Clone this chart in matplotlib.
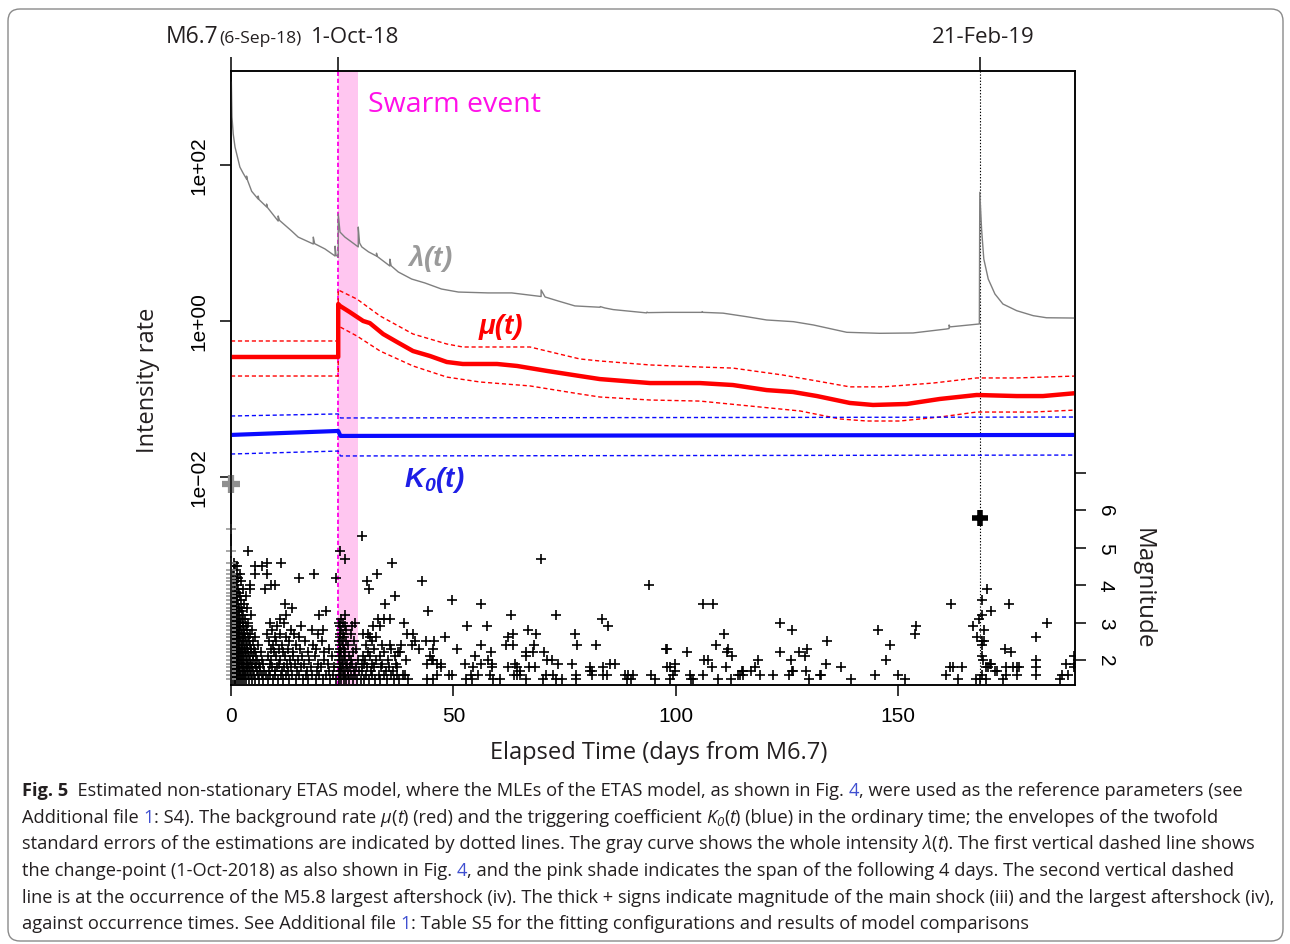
import matplotlib
matplotlib.use("Agg")
import matplotlib.pyplot as plt
from matplotlib.patches import FancyBboxPatch
from matplotlib.ticker import NullLocator
from matplotlib.transforms import IdentityTransform, offset_copy

plt.rcParams["mathtext.fontset"] = "custom"
plt.rcParams["mathtext.it"] = "Liberation Sans:italic:bold"
plt.rcParams["mathtext.rm"] = "Liberation Sans:italic:bold"

TICK_FONT = "Liberation Sans"
LABEL_FONT = "Open Sans"
INK = "#231f20"

# whole intensity lambda(t), events/day
lam_day = [0.08, 0.22, 0.5, 0.9, 1.4, 2.0, 2.7, 3.5, 3.5, 3.7, 4.65, 6.1, 6.1, 6.3,
           8.0, 8.0, 8.2, 10.6, 10.6, 10.9, 13.6, 15.1, 18.5, 18.5, 18.8, 21.1, 23.4,
           23.4, 23.6, 24.1, 24.1, 24.5, 25.6, 27.1, 28.6, 28.6, 28.9, 29.4, 30.9, 32.7,
           32.7, 32.9, 35.7, 35.7, 36.0, 37.6, 40.6, 43.6, 47.3, 51.1, 57.8, 63.1, 69.7,
           69.7, 70.6, 73.6, 77.3, 82.9, 83.0, 84.0, 85.9, 93.4, 93.5, 93.7, 97.9, 105.8,
           105.9, 106.1, 110.6, 115.9, 120.4, 126.4, 130.9, 138.4, 145.8, 153.3, 160.8,
           161.4, 161.4, 161.6, 168.2, 168.3, 168.7, 169.2, 170.2, 171.7, 173.5, 176.6,
           180.3, 183.3, 190.0]
lam_rate = [1150, 412, 250, 170, 130, 94, 79, 66, 72, 64, 46, 36.6, 40, 36,
            29, 31.6, 28.5, 19.1, 22.2, 19.5, 14.3, 11.9, 9.7, 11.9, 9.8, 8.4, 6.8,
            9.1, 7.0, 6.6, 23.6, 13.8, 11.9, 10.3, 8.9, 16.0, 10.0, 8.9, 7.7, 6.8,
            7.4, 6.7, 5.07, 6.2, 5.1, 4.25, 3.45, 3.07, 2.57, 2.35, 2.29, 2.29, 2.06,
            2.50, 2.03, 1.80, 1.56, 1.50, 1.53, 1.47, 1.40, 1.27, 1.30, 1.28, 1.29, 1.29,
            1.32, 1.29, 1.26, 1.135, 1.03, 0.98, 0.889, 0.716, 0.695, 0.702, 0.789,
            0.80, 0.889, 0.84, 0.916, 44.7, 15.1, 6.24, 3.45, 2.22, 1.65, 1.355,
            1.17, 1.10, 1.09]

# background rate mu(t) and its 2-sigma envelope
mu_day = [0, 24.1, 24.1, 24.5, 26.7, 29.7, 31.2, 34.2, 37.3, 40.9, 44.7, 48.5, 52.1,
          59.8, 64.3, 71.0, 78.4, 82.9, 94.2, 105.4, 112.8, 120.4, 126.3, 131.7, 139.1,
          144.3, 151.9, 159.3, 167.6, 176.6, 182.5, 190]
mu_rate = [0.3455, 0.3455, 1.65, 1.56, 1.30, 1.00, 0.94, 0.68, 0.538, 0.412, 0.356,
           0.298, 0.281, 0.281, 0.265, 0.229, 0.197, 0.180, 0.160, 0.160, 0.151, 0.130,
           0.123, 0.109, 0.0889, 0.0838, 0.0863, 0.100, 0.1125, 0.109, 0.109, 0.119]
mu_hi_day = [0, 24.1, 24.1, 28.3, 33.5, 40.9, 48.5, 52.1, 67.2, 78.4, 82.9, 94.2, 105.4,
             112.8, 124.0, 131.7, 139.1, 146.5, 157.8, 167.6, 176.6, 190]
mu_hi = [0.554, 0.554, 2.5, 1.91, 1.16, 0.681, 0.507, 0.464, 0.464, 0.326, 0.307, 0.273,
         0.257, 0.249, 0.203, 0.170, 0.143, 0.143, 0.160, 0.186, 0.186, 0.197]
mu_lo_day = [0, 24.1, 24.1, 28.3, 33.5, 40.9, 48.5, 56.0, 67.2, 78.4, 82.9, 94.2, 105.4,
             116.6, 127.9, 136.9, 142.9, 150.3, 159.3, 167.6, 180.2, 190]
mu_lo = [0.197, 0.197, 0.863, 0.642, 0.412, 0.265, 0.191, 0.165, 0.147, 0.116, 0.106,
         0.097, 0.094, 0.0813, 0.0702, 0.0554, 0.0522, 0.0522, 0.0587, 0.068, 0.068, 0.0722]

# triggering coefficient K0(t) and envelope
k0_day = [0, 24.1, 24.6, 190]
k0 = [0.0346, 0.0389, 0.0336, 0.0346]
k0_hi = [0.0605, 0.0643, 0.0571, 0.0587]
k0_lo = [0.0197, 0.0215, 0.0186, 0.0191]

CHANGE_DAY = 24.1
SHADE_END = 28.6
AFTERSHOCK_DAY = 168.3
mainshock_mag = 6.7
aftershock_mag = 5.8

# catalogue, rows of (magnitude, occurrence days)
week1_rows = [
    (1.5, [0.3, 0.6, 0.9, 1.2, 1.6, 2.0, 2.4, 2.9, 3.4, 4.0, 4.7, 5.5, 6.3, 7.2]),
    (1.6, [0.2, 0.5, 0.8, 1.1, 1.4, 1.8, 2.2, 2.7, 3.2, 3.8, 4.5, 5.2, 6.0, 6.9, 7.8]),
    (1.7, [0.3, 0.6, 1.0, 1.3, 1.7, 2.1, 2.6, 3.1, 3.7, 4.3, 5.0, 5.8, 6.6, 7.5]),
    (1.8, [0.2, 0.5, 0.9, 1.2, 1.5, 1.9, 2.4, 2.9, 3.5, 4.1, 4.8, 5.6, 6.5]),
    (1.9, [0.4, 0.7, 1.0, 1.4, 1.8, 2.2, 2.7, 3.3, 3.9, 4.6, 5.4, 6.2, 7.1]),
    (2.0, [0.3, 0.6, 0.9, 1.3, 1.6, 2.0, 2.5, 3.0, 3.6, 4.2, 5.0, 5.9, 7.0]),
    (2.1, [0.2, 0.5, 0.8, 1.1, 1.5, 1.9, 2.3, 2.8, 3.4, 4.1, 4.9, 5.7]),
    (2.2, [0.4, 0.7, 1.0, 1.4, 1.8, 2.2, 2.7, 3.2, 3.9, 4.6, 5.5, 6.7]),
    (2.3, [0.3, 0.6, 0.9, 1.2, 1.6, 2.0, 2.5, 3.1, 3.7, 4.4, 5.2]),
    (2.4, [0.2, 0.5, 0.8, 1.1, 1.5, 1.9, 2.4, 2.9, 3.5, 4.3, 6.1]),
    (2.5, [0.4, 0.7, 1.0, 1.3, 1.7, 2.2, 2.7, 3.3, 4.0, 4.9]),
    (2.6, [0.3, 0.6, 0.9, 1.2, 1.6, 2.0, 2.6, 3.2, 3.8, 5.3]),
    (2.7, [0.2, 0.5, 0.8, 1.1, 1.5, 1.9, 2.4, 3.0, 4.2]),
    (2.8, [0.4, 0.7, 1.0, 1.4, 1.8, 2.3, 2.9, 3.6, 4.7]),
    (2.9, [0.3, 0.6, 0.9, 1.3, 1.7, 2.1, 2.7, 3.4]),
    (3.0, [0.2, 0.5, 0.8, 1.2, 1.6, 2.1, 2.6, 3.9]),
    (3.1, [0.4, 0.7, 1.1, 1.5, 2.0, 2.5, 3.1]),
    (3.2, [0.3, 0.6, 1.0, 1.4, 1.9, 2.8, 4.4]),
    (3.3, [0.2, 0.5, 0.9, 1.3, 1.8, 2.4]),
    (3.4, [0.4, 0.8, 1.2, 1.7, 2.3, 3.5]),
    (3.5, [0.3, 0.7, 1.1, 1.6, 2.9]),
    (3.6, [0.5, 0.9, 1.4, 2.2]),
    (3.7, [0.4, 0.8, 1.3, 2.0, 3.3]),
    (3.8, [0.6, 1.1, 1.8]),
    (3.9, [0.3, 0.9, 1.5, 2.6, 4.3, 7.6]),
    (4.0, [0.7, 1.3, 4.2, 9.1, 9.9]),
    (4.1, [0.5, 1.1, 2.3]),
    (4.2, [0.9, 1.6, 15.3, 23.7]),
    (4.3, [0.4, 1.3, 2.1, 5.4, 8.2, 18.7]),
    (4.4, [0.7]),
    (4.5, [1.0, 1.4, 5.4, 6.9]),
    (4.6, [0.6, 8.2, 11.2]),
    (4.9, [3.9]),
]
mid_rows = [
    (1.5, [8.3, 9.5, 10.6, 11.8, 13.0, 14.5, 16.2, 17.4, 19.1, 20.6, 22.3, 23.5]),
    (1.6, [8.8, 10.0, 11.2, 12.4, 13.8, 15.3, 16.8, 18.2, 19.8, 21.4, 23.0]),
    (1.7, [8.5, 9.8, 11.5, 12.9, 14.9, 17.0, 19.3, 22.0]),
    (1.8, [9.2, 10.4, 12.0, 13.5, 15.8, 18.0, 20.2, 23.2]),
    (1.9, [8.7, 10.9, 12.6, 14.3, 16.5, 19.5, 21.7]),
    (2.0, [9.0, 11.0, 13.2, 15.0, 17.6, 20.9]),
    (2.1, [8.4, 10.2, 12.2, 14.0, 16.0, 18.8, 22.6]),
    (2.2, [9.6, 11.6, 13.9, 17.3, 21.0]),
    (2.3, [8.9, 10.8, 12.8, 15.5, 19.0, 22.1]),
    (2.4, [9.4, 11.4, 14.6, 18.4]),
    (2.5, [8.6, 10.1, 13.0, 16.6, 20.4]),
    (2.6, [9.9, 12.3, 15.2]),
    (2.7, [8.2, 11.1, 14.2, 19.6]),
    (2.8, [9.3, 13.4, 18.3, 20.6]),
    (2.9, [10.3, 15.7]),
    (3.0, [8.8, 12.0]),
    (3.1, [11.0]),
    (3.2, [12.4, 19.8]),
    (3.3, [21.3]),
    (3.4, [13.6]),
    (3.5, [12.1]),
]
swarm_rows = [
    (1.5, [24.3, 24.8, 25.3, 25.9, 26.6, 27.4, 28.3, 29.2, 29.8, 31.0, 32.4, 33.6, 35.0, 36.6, 37.8]),
    (1.6, [24.5, 25.1, 25.6, 26.2, 27.0, 27.9, 30.3, 31.8, 33.2, 34.3, 36.0, 37.4]),
    (1.7, [24.2, 24.7, 25.4, 26.4, 27.6, 28.8, 29.5, 31.4, 34.8, 36.4]),
    (1.8, [24.4, 25.0, 25.8, 26.8, 28.0, 30.6, 32.2, 33.8, 35.6, 37.2]),
    (1.9, [24.6, 25.2, 26.0, 27.2, 29.5, 29.9, 31.6, 34.0, 37.0]),
    (2.0, [24.3, 24.9, 25.7, 27.0, 28.5, 30.1, 32.6, 35.3]),
    (2.1, [24.5, 25.3, 26.5, 29.6, 31.3, 33.4, 36.8]),
    (2.2, [24.2, 24.8, 25.6, 27.4, 30.8, 34.5, 37.6]),
    (2.3, [24.6, 25.4, 28.2, 32.1, 35.9]),
    (2.4, [24.4, 25.1, 26.3, 30.4, 33.9, 35.7]),
    (2.5, [24.3, 24.9, 25.8, 27.7, 31.8]),
    (2.6, [24.6, 25.5, 31.2, 32.7]),
    (2.7, [24.4, 25.2, 26.9, 29.7, 30.9]),
    (2.8, [24.7, 25.9]),
    (2.9, [24.5, 25.6, 27.1, 32.0, 33.5]),
    (3.0, [24.3, 25.2, 27.9]),
    (3.1, [24.8, 33.1, 34.4, 35.7]),
    (3.2, [25.6]),
    (3.5, [34.6]),
    (3.7, [36.9]),
    (3.9, [31.0]),
    (4.1, [30.5]),
    (4.3, [32.9]),
    (4.6, [36.2]),
    (4.7, [25.6]),
    (4.9, [24.5]),
    (5.3, [29.4]),
]
# later events, (day, magnitude)
later_events = [
    (42.9, 4.1), (69.7, 4.7), (49.7, 3.6), (56.3, 3.5), (44.3, 3.3), (38.9, 3.0),
    (62.9, 3.2), (73.0, 3.2), (83.4, 3.1), (84.7, 2.9), (53.0, 2.9), (57.6, 2.9),
    (39.5, 2.7), (40.8, 2.7), (48.1, 2.6), (62.2, 2.6), (63.4, 2.7), (66.7, 2.8),
    (68.5, 2.7), (77.3, 2.7), (41.3, 2.5), (43.8, 2.5), (45.6, 2.5), (38.2, 2.4),
    (40.6, 2.4), (42.3, 2.3), (45.3, 2.3), (50.7, 2.3), (56.1, 2.4), (61.8, 2.4),
    (63.4, 2.4), (68.2, 2.4), (77.7, 2.4), (82.0, 2.4), (38.0, 2.2), (39.3, 2.0),
    (44.7, 2.1), (45.1, 2.0), (45.5, 2.0), (54.8, 2.1), (57.8, 2.0), (58.4, 2.2),
    (66.3, 2.1), (66.4, 2.2), (67.8, 2.2), (70.3, 2.2), (71.1, 2.0), (72.1, 2.0),
    (44.0, 1.9), (46.2, 1.9), (47.3, 1.9), (47.3, 1.8), (52.6, 1.9), (54.5, 1.8),
    (56.2, 1.9), (58.6, 1.9), (58.6, 1.8), (62.3, 1.8), (63.8, 1.9), (64.2, 1.8),
    (64.9, 1.7), (67.0, 1.8), (68.3, 1.8), (73.6, 1.9), (76.6, 1.9), (80.8, 1.8),
    (80.8, 1.7), (83.5, 1.8), (85.2, 1.9), (86.3, 1.9), (38.7, 1.6), (39.1, 1.6),
    (39.8, 1.5), (44.0, 1.5), (45.3, 1.5), (46.4, 1.6), (49.1, 1.6), (49.6, 1.6),
    (52.8, 1.5), (53.9, 1.6), (54.1, 1.5), (55.6, 1.6), (58.2, 1.6), (58.9, 1.5),
    (60.4, 1.5), (63.6, 1.6), (64.3, 1.6), (64.9, 1.6), (66.4, 1.5), (70.2, 1.5),
    (70.9, 1.6), (72.3, 1.6), (73.0, 1.5), (74.3, 1.5), (77.5, 1.5), (77.5, 1.6),
    (81.1, 1.6), (81.1, 1.7), (83.5, 1.6), (84.6, 1.6),
    (93.9, 4.0), (106.1, 3.5), (108.4, 3.5), (123.5, 3.0), (126.2, 2.8), (110.9, 2.7),
    (133.9, 2.5), (109.1, 2.4), (97.8, 2.3), (98.1, 2.3), (111.8, 2.3), (111.4, 2.2),
    (112.7, 2.1), (102.5, 2.2), (123.5, 2.2), (127.7, 2.2), (129.4, 2.3), (129.1, 2.1),
    (106.3, 2.0), (107.3, 2.0), (118.5, 2.0), (125.8, 2.0), (133.7, 1.9), (97.9, 1.8),
    (98.7, 1.8), (99.8, 1.9), (99.8, 1.7), (108.0, 1.8), (111.2, 1.8), (117.8, 1.8),
    (116.8, 1.7), (115.0, 1.7), (114.4, 1.6), (115.1, 1.6), (126.4, 1.7), (129.2, 1.7),
    (88.5, 1.6), (89.3, 1.6), (90.4, 1.6), (90.0, 1.5), (88.9, 1.5), (94.5, 1.6),
    (95.3, 1.5), (98.7, 1.5), (99.3, 1.6), (103.1, 1.6), (103.3, 1.5), (103.9, 1.5),
    (106.1, 1.6), (109.5, 1.5), (112.4, 1.5), (114.0, 1.6), (114.8, 1.7), (119.0, 1.6),
    (121.9, 1.6), (125.5, 1.6), (126.2, 1.7), (130.0, 1.5), (132.4, 1.6), (132.7, 1.6),
    (170.0, 3.9), (168.7, 3.6), (161.9, 3.5), (174.8, 3.5), (170.9, 3.3), (168.9, 3.2),
    (168.2, 3.1), (166.7, 2.9), (183.3, 3.0), (145.5, 2.8), (153.9, 2.9), (153.7, 2.7),
    (169.2, 2.8), (148.1, 2.4), (147.3, 2.0), (167.7, 2.6), (168.9, 2.5), (169.3, 2.5),
    (180.9, 2.6), (168.7, 2.4), (168.7, 2.1), (169.1, 2.0), (170.6, 1.9), (173.9, 2.3),
    (175.4, 2.2), (180.9, 2.0), (180.9, 1.8), (180.9, 1.6), (187.6, 1.9), (189.5, 2.1),
    (189.5, 1.9), (189.5, 1.8), (137.2, 1.8), (139.3, 1.5), (144.7, 1.6), (150.0, 1.6),
    (151.5, 1.5), (160.7, 1.6), (161.7, 1.8), (162.3, 1.8), (163.4, 1.5), (164.4, 1.8),
    (167.4, 1.5), (168.3, 1.5), (168.9, 1.6), (169.7, 1.5), (169.8, 1.8), (170.2, 1.8),
    (170.9, 1.9), (171.7, 1.7), (172.1, 1.7), (173.6, 1.5), (174.2, 1.6), (174.2, 1.8),
    (175.8, 1.8), (176.6, 1.8), (177.2, 1.8), (176.6, 1.6), (186.3, 1.5), (186.7, 1.6),
    (188.2, 1.6),
]
# events in the first hours after the main shock (drawn gray)
early_mags = [1.5, 1.6, 1.7, 1.8, 1.9, 2.0, 2.1, 2.2, 2.3, 2.4, 2.5, 2.6, 2.7, 2.8, 2.9,
              3.0, 3.1, 3.2, 3.3, 3.4, 3.5, 3.6, 3.7, 3.8, 3.9, 4.0, 4.1, 4.2, 4.3, 4.4,
              4.6, 4.9, 5.5]
early_days = [0.0] * len(early_mags)


def unpack_rows(rows):
    days, mags = [], []
    for mag, ds in rows:
        days += ds
        mags += [mag] * len(ds)
    return days, mags


def draw_runs(fig, x, y, runs, size, family, color):
    # lay out text pieces with different styles one after another on a baseline
    renderer = fig.canvas.get_renderer()
    bar = fig.text(0, 0, "|", fontsize=size, family=family, transform=IdentityTransform())
    bar_w = bar.get_window_extent(renderer).width
    bar.remove()
    for text, style in runs:
        kw = dict(fontsize=size, family=family, color=color)
        kw.update(style)
        dy = kw.pop("dy", 0)
        scale = kw.pop("scale", 1.0)
        kw["fontsize"] = size * scale
        fig.text(x, y + dy, text, transform=IdentityTransform(), va="baseline", **kw)
        probe = fig.text(0, 0, text + "|", transform=IdentityTransform(), **kw)
        x += probe.get_window_extent(renderer).width - bar_w * scale
        probe.remove()
    return x


def main():
    W, H = 1290, 945
    fig = plt.figure(figsize=(W / 100, H / 100), dpi=100)
    ax = fig.add_axes([231 / W, 1 - 686 / H, 844 / W, 614 / H])

    ax.set_xlim(0, 189.7)
    ax.set_yscale("log")
    ax.set_ylim(10 ** -4.667, 10 ** 3.205)

    ax.axvspan(CHANGE_DAY, SHADE_END, color="#ffc6f0", lw=0, zorder=0)
    ax.axvline(CHANGE_DAY, color="#ff10e8", lw=1.4, ls=(0, (2.2, 1.4)), zorder=1)
    ax.axvline(AFTERSHOCK_DAY, color="black", lw=0.8, ls=(0, (1.2, 1.6)), zorder=1)

    ax.plot(lam_day, lam_rate, color="#7f7f7f", lw=1.0, zorder=3)
    ax.plot(mu_day, mu_rate, color="#ff0000", lw=3.2, zorder=4)
    ax.plot(mu_hi_day, mu_hi, color="#ff0000", lw=1.0, ls=(0, (3, 2)), zorder=4)
    ax.plot(mu_lo_day, mu_lo, color="#ff0000", lw=1.0, ls=(0, (3, 2)), zorder=4)
    ax.plot(k0_day, k0, color="#0a0aff", lw=3.0, zorder=4)
    ax.plot(k0_day, k0_hi, color="#0a0aff", lw=1.0, ls=(0, (3, 2)), zorder=4)
    ax.plot(k0_day, k0_lo, color="#0a0aff", lw=1.0, ls=(0, (3, 2)), zorder=4)

    ax.text(44.7, 6.6, r"$\lambda$(t)", color="#9a9a9a", fontsize=20, family=TICK_FONT,
            fontweight="bold", fontstyle="italic", ha="center", va="center")
    ax.text(60.7, 0.863, "\u03bc(t)", color="#ff0000", fontsize=20, family=TICK_FONT,
            fontweight="bold", fontstyle="italic", ha="center", va="center")
    ax.text(45.6, 0.0094, r"$K_0(t)$", color="#1e1ee6", fontsize=20,
            ha="center", va="center")
    ax.text(30.8, 0.9455, "Swarm event", color="#ff10e8", fontsize=20.5, family=LABEL_FONT,
            ha="left", va="center", transform=ax.get_xaxis_transform())

    # left log axis
    ax.set_yticks([1e-2, 1, 1e2])
    ax.set_yticklabels(["1e\u221202", "1e+00", "1e+02"], rotation=90, va="center",
                       family=TICK_FONT, fontsize=15)
    ax.yaxis.set_minor_locator(NullLocator())
    ax.tick_params(axis="y", length=8, width=1.1, pad=8, colors="black")
    ax.set_xticks([0, 50, 100, 150])
    ax.set_xticklabels(["0", "50", "100", "150"], family=TICK_FONT, fontsize=15)
    ax.tick_params(axis="x", length=8, width=1.1, pad=7)

    # event magnitudes on the right axis
    ax2 = ax.twinx()
    ax2.set_ylim(1.333, 17.71)
    ax2.set_yticks([2, 3, 4, 5, 6, 7])
    ax2.set_yticklabels(["2", "3", "4", "5", "6", ""], rotation=-90, va="center",
                        family=TICK_FONT, fontsize=15)
    ax2.tick_params(axis="y", length=8, width=1.1, pad=7)

    d1, m1 = unpack_rows(week1_rows)
    d2, m2 = unpack_rows(mid_rows)
    d3, m3 = unpack_rows(swarm_rows)
    d4 = [d for d, _ in later_events]
    m4 = [m for _, m in later_events]
    ax2.plot(d1 + d2 + d3 + d4, m1 + m2 + m3 + m4, ls="none", marker="+", color="black",
             ms=6.5, mew=1.2)
    ax2.plot(early_days, early_mags, ls="none", marker="+", color="#9a9a9a", ms=6.5,
             mew=1.2, clip_on=False)
    ax2.plot([0], [mainshock_mag], ls="none", marker="+", color="#8f8f8f", ms=13, mew=4.5,
             clip_on=False)
    ax2.plot([AFTERSHOCK_DAY], [aftershock_mag], ls="none", marker="+", color="black",
             ms=12, mew=4.0)

    for a in (ax, ax2):
        for sp in a.spines.values():
            sp.set_linewidth(1.1)

    # dates along the top
    top = ax.secondary_xaxis("top")
    top.set_xticks([0, CHANGE_DAY, AFTERSHOCK_DAY])
    top.set_xticklabels(["", "", ""])
    top.tick_params(length=10, width=1.1)
    top.spines["top"].set_visible(False)
    tr = ax.get_xaxis_transform()
    base_y = (686 - 43) / 614
    ax.text(0, base_y, "M6.7", fontsize=16.5, family=LABEL_FONT, color=INK, ha="right",
            va="baseline", transform=offset_copy(tr, fig=fig, x=-13, y=0, units="dots"))
    ax.text(0, base_y, "(6-Sep-18)", fontsize=12.6, family=LABEL_FONT, color=INK,
            ha="left", va="baseline",
            transform=offset_copy(tr, fig=fig, x=-12, y=0, units="dots"))
    ax.text(CHANGE_DAY, base_y, "1-Oct-18", fontsize=16, family=LABEL_FONT, color=INK,
            ha="center", va="baseline",
            transform=offset_copy(tr, fig=fig, x=17, y=0, units="dots"))
    ax.text(AFTERSHOCK_DAY, base_y, "21-Feb-19", fontsize=16, family=LABEL_FONT, color=INK,
            ha="center", va="baseline",
            transform=offset_copy(tr, fig=fig, x=3, y=0, units="dots"))

    fig.text(148 / W, 1 - 380 / H, "Intensity rate", rotation=90, fontsize=17,
             family=LABEL_FONT, color=INK, ha="center", va="center")
    fig.text(1143 / W, 1 - 589 / H, "Magnitude", rotation=-90, fontsize=17.5,
             family=LABEL_FONT, color=INK, ha="center", va="center")
    fig.text(659 / W, 1 - 753 / H, "Elapsed Time (days from M6.7)", fontsize=17,
             family=LABEL_FONT, color=INK, ha="center", va="center")

    # caption
    B = {"fontweight": "bold"}
    I = {"fontstyle": "italic"}
    LINK = {"color": "#3f4fd0"}
    SUB = {"fontstyle": "italic", "scale": 0.72, "dy": -3}
    lines = [
        [("Fig. 5", B), ("  Estimated non-stationary ETAS model, where the MLEs of the ETAS "
                         "model, as shown in Fig. ", {}), ("4", LINK),
         (", were used as the reference parameters (see", {})],
        [("Additional file ", {}), ("1", LINK), (": S4). The background rate ", {}),
         ("\u03bc", I), ("(", {}), ("t", I), (") (red) and the triggering coefficient ", {}),
         ("K", I), ("0", SUB), ("(", {}), ("t", I),
         (") (blue) in the ordinary time; the envelopes of the twofold", {})],
        [("standard errors of the estimations are indicated by dotted lines. The gray curve "
          "shows the whole intensity ", {}), ("\u03bb", I), ("(", {}), ("t", I),
         ("). The first vertical dashed line shows", {})],
        [("the change-point (1-Oct-2018) as also shown in Fig. ", {}), ("4", LINK),
         (", and the pink shade indicates the span of the following 4 days. The second "
          "vertical dashed", {})],
        [("line is at the occurrence of the M5.8 largest aftershock (iv). The thick + signs "
          "indicate magnitude of the main shock (iii) and the largest aftershock (iv),", {})],
        [("against occurrence times. See Additional file ", {}), ("1", LINK),
         (": Table S5 for the fitting configurations and results of model comparisons", {})],
    ]
    renderer = fig.canvas.get_renderer()
    probe = fig.text(0, 0, lines[4][0][0], fontsize=10, family=LABEL_FONT,
                     transform=IdentityTransform())
    cap_size = 10 * 1253 / probe.get_window_extent(renderer).width
    probe.remove()
    for i, runs in enumerate(lines):
        draw_runs(fig, 22, H - (796 + 26.7 * i), runs, cap_size, LABEL_FONT, INK)

    frame = FancyBboxPatch((8, 3), 1275, 932, boxstyle="round,pad=0,rounding_size=12",
                           transform=IdentityTransform(), fill=False, ec="#8a8a8a", lw=1.0)
    fig.add_artist(frame)

    fig.savefig("out.png", dpi=100)


if __name__ == "__main__":
    main()
